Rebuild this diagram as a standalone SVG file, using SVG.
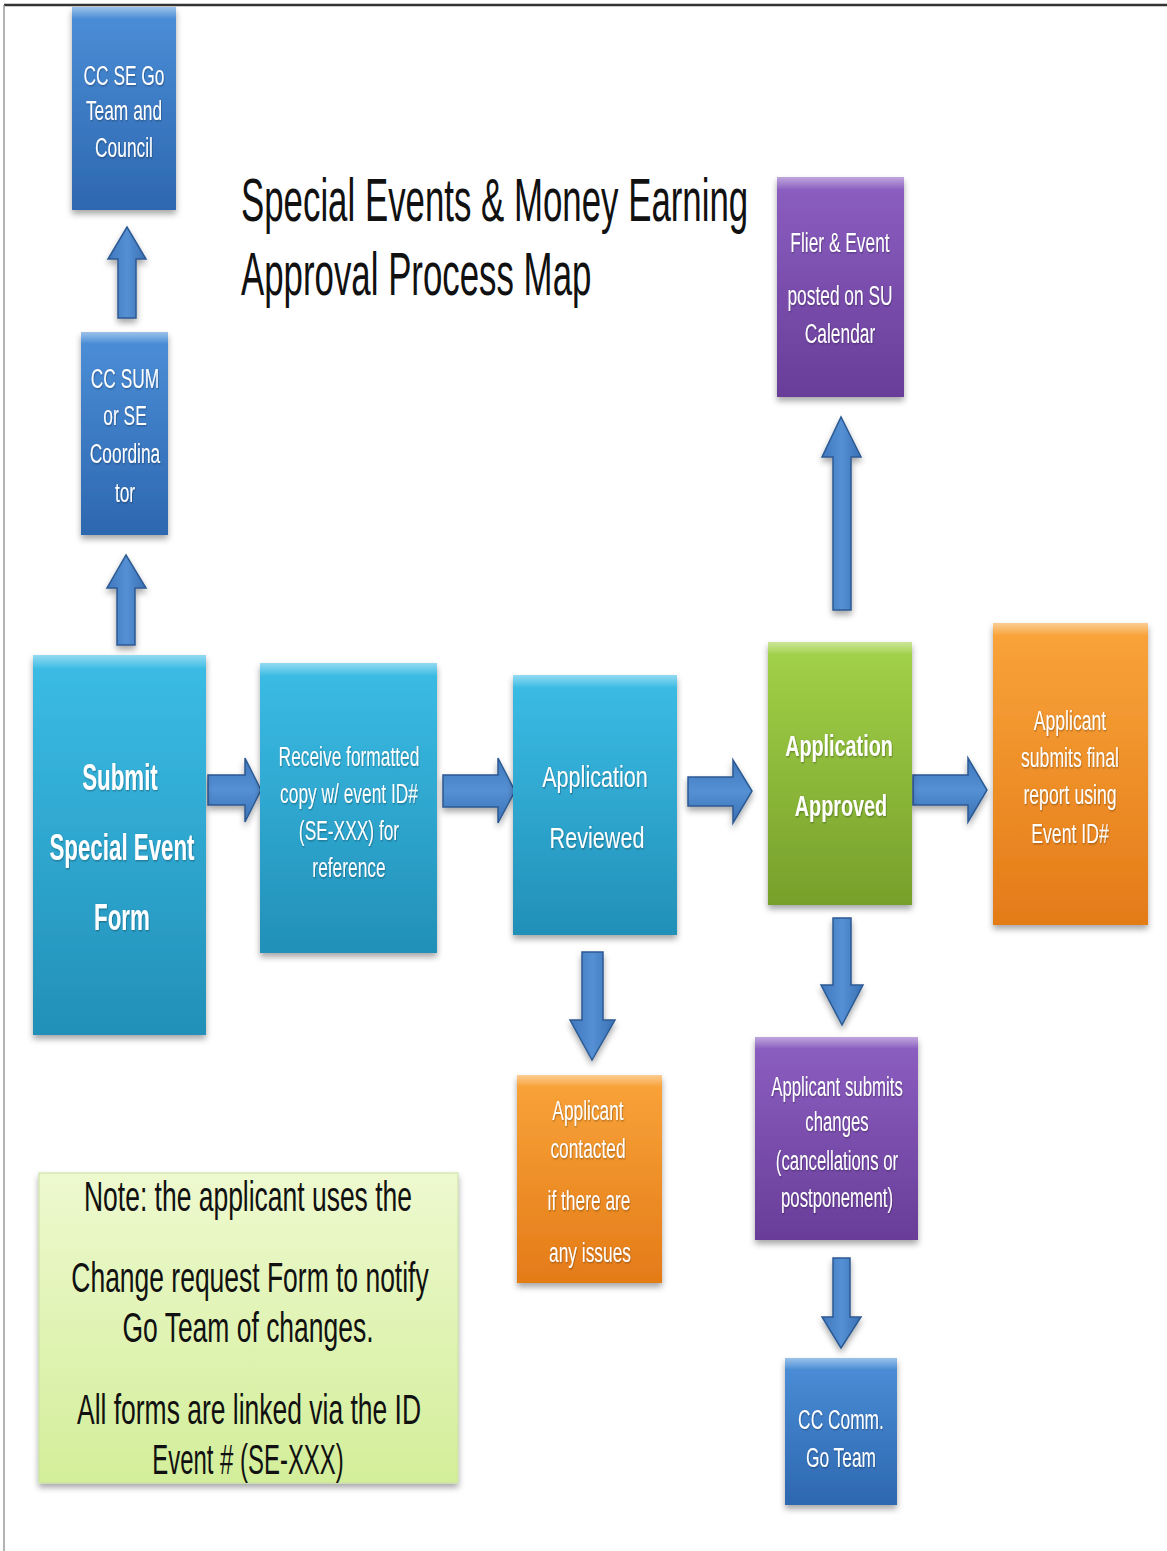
<svg xmlns="http://www.w3.org/2000/svg" width="1167" height="1551" viewBox="0 0 1167 1551">
<defs>
<linearGradient id="gBlue" x1="0" y1="0" x2="0" y2="1"><stop offset="0" stop-color="#4b8fd8"/><stop offset="1" stop-color="#2d67b0"/></linearGradient>
<linearGradient id="gCyan" x1="0" y1="0" x2="0" y2="1"><stop offset="0" stop-color="#3bbde6"/><stop offset="1" stop-color="#2290b8"/></linearGradient>
<linearGradient id="gGreen" x1="0" y1="0" x2="0" y2="1"><stop offset="0" stop-color="#a3d24a"/><stop offset="1" stop-color="#76a02a"/></linearGradient>
<linearGradient id="gOrange" x1="0" y1="0" x2="0" y2="1"><stop offset="0" stop-color="#f9a43a"/><stop offset="1" stop-color="#e47b18"/></linearGradient>
<linearGradient id="gPurple" x1="0" y1="0" x2="0" y2="1"><stop offset="0" stop-color="#8c5fc2"/><stop offset="1" stop-color="#683d98"/></linearGradient>
<linearGradient id="gNote" x1="0" y1="0" x2="0" y2="1"><stop offset="0" stop-color="#eef9cf"/><stop offset="1" stop-color="#d3ee9a"/></linearGradient>
<linearGradient id="gArrowV" x1="0" y1="0" x2="1" y2="0"><stop offset="0" stop-color="#3f77bd"/><stop offset="0.5" stop-color="#5590d4"/><stop offset="1" stop-color="#3a70b4"/></linearGradient>
<linearGradient id="gArrowH" x1="0" y1="0" x2="0" y2="1"><stop offset="0" stop-color="#3f77bd"/><stop offset="0.5" stop-color="#5590d4"/><stop offset="1" stop-color="#3a70b4"/></linearGradient>
<linearGradient id="gHi" x1="0" y1="0" x2="0" y2="1"><stop offset="0" stop-color="#ffffff" stop-opacity="0.45"/><stop offset="1" stop-color="#ffffff" stop-opacity="0"/></linearGradient>
<filter id="sh" x="-20%" y="-20%" width="140%" height="140%"><feDropShadow dx="0" dy="4" stdDeviation="3" flood-color="#000" flood-opacity="0.35"/></filter>
<filter id="tsh" x="-10%" y="-20%" width="120%" height="140%"><feDropShadow dx="1" dy="1" stdDeviation="0.8" flood-color="#000" flood-opacity="0.35"/></filter>
</defs>
<style>
.box{filter:url(#sh);}
.hi{fill:url(#gHi);}
.w{fill:#ffffff;font-family:"Liberation Sans",Arial,sans-serif;font-size:28px;text-anchor:middle;filter:url(#tsh);}
.b{font-weight:bold;}
.ttl{fill:#111;font-family:"Liberation Sans",Arial,sans-serif;font-size:62px;}
.nt{fill:#111;font-family:"Liberation Sans",Arial,sans-serif;font-size:42px;text-anchor:middle;}
.av{fill:url(#gArrowV);stroke:#2c5a93;stroke-width:1.5;filter:url(#sh);}
.ah{fill:url(#gArrowH);stroke:#2c5a93;stroke-width:1.5;filter:url(#sh);}
</style>
<rect x="0" y="0" width="1167" height="1551" fill="#ffffff"/>
<line x1="4" y1="5" x2="1167" y2="5" stroke="#333" stroke-width="2.5"/>
<line x1="4" y1="5" x2="4" y2="1551" stroke="#999" stroke-width="1.5"/>

<g id="title">
<text class="ttl" transform="translate(241,0) scale(0.562,1)" x="0" y="221">Special Events &amp; Money Earning</text>
<text class="ttl" transform="translate(241,0) scale(0.562,1)" x="0" y="295">Approval Process Map</text>
</g>

<g id="connectors">
<polygon class="av" points="118,318 118,259 108,259 127,227 146,259 136,259 136,318"/>
<polygon class="av" points="117,645 117,588 107,588 126,555 146,588 135,588 135,645"/>
<polygon class="ah" points="208,775 245,775 245,758 261,790 245,822 245,805 208,805"/>
<polygon class="ah" points="443,775 498,775 498,758 515,791 498,823 498,807 443,807"/>
<polygon class="ah" points="688,777 733,777 733,760 752,791 733,823 733,806 688,806"/>
<polygon class="ah" points="913,775 968,775 968,758 987,790 968,822 968,805 913,805"/>
<polygon class="av" points="833,610 833,457 822,457 841,417 861,457 851,457 851,610"/>
<polygon class="av" points="582,952 603,952 603,1020 615,1020 592,1060 570,1020 582,1020"/>
<polygon class="av" points="833,918 851,918 851,985 863,985 842,1025 821,985 833,985"/>
<polygon class="av" points="833,1258 850,1258 850,1317 861,1317 841,1348 822,1317 833,1317"/>
</g>

<g id="n-goteam">
<rect class="box" x="72" y="7" width="104" height="203" fill="url(#gBlue)"/>
<rect class="hi" x="72" y="7" width="104" height="12"/>
<text class="w" transform="translate(124,0) scale(0.62,1)" x="0" y="85">CC SE Go</text>
<text class="w" transform="translate(124,0) scale(0.62,1)" x="0" y="120">Team and</text>
<text class="w" transform="translate(124,0) scale(0.62,1)" x="0" y="157">Council</text>
</g>

<g id="n-coord">
<rect class="box" x="81" y="332" width="87" height="203" fill="url(#gBlue)"/>
<rect class="hi" x="81" y="332" width="87" height="12"/>
<text class="w" transform="translate(125,0) scale(0.62,1)" x="0" y="388">CC SUM</text>
<text class="w" transform="translate(125,0) scale(0.62,1)" x="0" y="425">or SE</text>
<text class="w" transform="translate(125,0) scale(0.62,1)" x="0" y="463">Coordina</text>
<text class="w" transform="translate(125,0) scale(0.62,1)" x="0" y="502">tor</text>
</g>

<g id="n-submit">
<rect class="box" x="33" y="655" width="173" height="380" fill="url(#gCyan)"/>
<rect class="hi" x="33" y="655" width="173" height="14"/>
<text class="w b" style="font-size:36px" transform="translate(120,0) scale(0.62,1)" x="0" y="790">Submit</text>
<text class="w b" style="font-size:36px" transform="translate(122,0) scale(0.62,1)" x="0" y="860">Special Event</text>
<text class="w b" style="font-size:36px" transform="translate(122,0) scale(0.62,1)" x="0" y="930">Form</text>
</g>

<g id="n-receive">
<rect class="box" x="260" y="663" width="177" height="290" fill="url(#gCyan)"/>
<rect class="hi" x="260" y="663" width="177" height="13"/>
<text class="w" transform="translate(349,0) scale(0.62,1)" x="0" y="766">Receive formatted</text>
<text class="w" transform="translate(349,0) scale(0.62,1)" x="0" y="803">copy w/ event ID#</text>
<text class="w" transform="translate(349,0) scale(0.62,1)" x="0" y="840">(SE-XXX) for</text>
<text class="w" transform="translate(349,0) scale(0.62,1)" x="0" y="877">reference</text>
</g>

<g id="n-reviewed">
<rect class="box" x="513" y="675" width="164" height="260" fill="url(#gCyan)"/>
<rect class="hi" x="513" y="675" width="164" height="13"/>
<text class="w" style="font-size:30px" transform="translate(595,0) scale(0.72,1)" x="0" y="787">Application</text>
<text class="w" style="font-size:30px" transform="translate(597,0) scale(0.72,1)" x="0" y="848">Reviewed</text>
</g>

<g id="n-approved">
<rect class="box" x="768" y="642" width="144" height="263" fill="url(#gGreen)"/>
<rect class="hi" x="768" y="642" width="144" height="13"/>
<text class="w b" style="font-size:30px" transform="translate(839,0) scale(0.66,1)" x="0" y="756">Application</text>
<text class="w b" style="font-size:30px" transform="translate(841,0) scale(0.66,1)" x="0" y="816">Approved</text>
</g>

<g id="n-final">
<rect class="box" x="993" y="623" width="155" height="302" fill="url(#gOrange)"/>
<rect class="hi" x="993" y="623" width="155" height="13"/>
<text class="w" transform="translate(1070,0) scale(0.63,1)" x="0" y="730">Applicant</text>
<text class="w" transform="translate(1070,0) scale(0.63,1)" x="0" y="767">submits final</text>
<text class="w" transform="translate(1070,0) scale(0.63,1)" x="0" y="804">report using</text>
<text class="w" transform="translate(1070,0) scale(0.63,1)" x="0" y="843">Event ID#</text>
</g>

<g id="n-flier">
<rect class="box" x="777" y="177" width="127" height="220" fill="url(#gPurple)"/>
<rect class="hi" x="777" y="177" width="127" height="13"/>
<text class="w" transform="translate(840,0) scale(0.62,1)" x="0" y="252">Flier &amp; Event</text>
<text class="w" transform="translate(840,0) scale(0.62,1)" x="0" y="305">posted on SU</text>
<text class="w" transform="translate(840,0) scale(0.62,1)" x="0" y="343">Calendar</text>
</g>

<g id="n-changes">
<rect class="box" x="755" y="1037" width="163" height="203" fill="url(#gPurple)"/>
<rect class="hi" x="755" y="1037" width="163" height="12"/>
<text class="w" transform="translate(837,0) scale(0.6,1)" x="0" y="1096">Applicant submits</text>
<text class="w" transform="translate(837,0) scale(0.6,1)" x="0" y="1131">changes</text>
<text class="w" transform="translate(837,0) scale(0.6,1)" x="0" y="1170">(cancellations or</text>
<text class="w" transform="translate(837,0) scale(0.6,1)" x="0" y="1207">postponement)</text>
</g>

<g id="n-contacted">
<rect class="box" x="517" y="1075" width="145" height="208" fill="url(#gOrange)"/>
<rect class="hi" x="517" y="1075" width="145" height="12"/>
<text class="w" transform="translate(588,0) scale(0.62,1)" x="0" y="1120">Applicant</text>
<text class="w" transform="translate(588,0) scale(0.62,1)" x="0" y="1158">contacted</text>
<text class="w" transform="translate(589,0) scale(0.62,1)" x="0" y="1210">if there are</text>
<text class="w" transform="translate(590,0) scale(0.62,1)" x="0" y="1262">any issues</text>
</g>

<g id="n-comm">
<rect class="box" x="785" y="1358" width="112" height="147" fill="url(#gBlue)"/>
<rect class="hi" x="785" y="1358" width="112" height="12"/>
<text class="w" transform="translate(841,0) scale(0.62,1)" x="0" y="1429">CC Comm.</text>
<text class="w" transform="translate(841,0) scale(0.62,1)" x="0" y="1467">Go Team</text>
</g>

<g id="n-note">
<rect class="box" x="39" y="1173" width="419" height="310" fill="url(#gNote)" stroke="#c8dfa0" stroke-width="1"/>
<text class="nt" transform="translate(248,0) scale(0.63,1)" x="0" y="1211">Note: the applicant uses the</text>
<text class="nt" transform="translate(250,0) scale(0.63,1)" x="0" y="1292">Change request  Form to notify</text>
<text class="nt" transform="translate(248,0) scale(0.63,1)" x="0" y="1342">Go Team of changes.</text>
<text class="nt" transform="translate(249,0) scale(0.63,1)" x="0" y="1424">All forms are linked via the ID</text>
<text class="nt" transform="translate(248,0) scale(0.57,1)" x="0" y="1474">Event # (SE-XXX)</text>
</g>
</svg>
